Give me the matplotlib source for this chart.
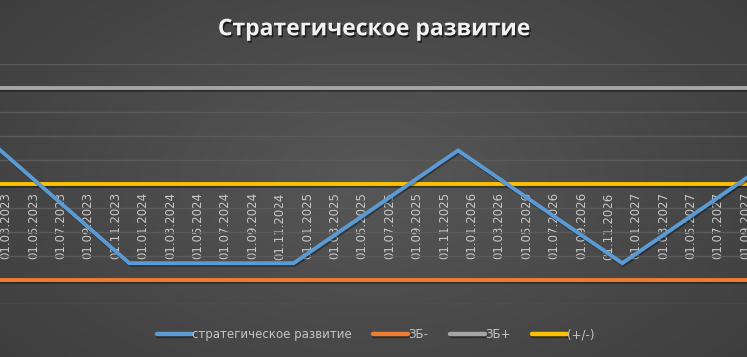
import numpy as np
import matplotlib
matplotlib.use("Agg")
import matplotlib.pyplot as plt
import matplotlib.patheffects as pe

# tick labels on the date axis (every second month)
tick_labels = [
    "01.03.2023", "01.05.2023", "01.07.2023", "01.09.2023", "01.11.2023",
    "01.01.2024", "01.03.2024", "01.05.2024", "01.07.2024", "01.09.2024", "01.11.2024",
    "01.01.2025", "01.03.2025", "01.05.2025", "01.07.2025", "01.09.2025", "01.11.2025",
    "01.01.2026", "01.03.2026", "01.05.2026", "01.07.2026", "01.09.2026", "01.11.2026",
    "01.01.2027", "01.03.2027", "01.05.2027", "01.07.2027", "01.09.2027",
]

# strategic development series
dev_dates = ["01.12.2022", "01.12.2023", "01.12.2024", "01.12.2025", "01.12.2026", "01.12.2027"]
dev_values = [2.7, -3.3, -3.3, 1.4, -3.3, 1.4]

# constant levels
zb_minus = -4
zb_plus = 4
plus_minus = 0


def month_index(s):
    d, m, y = (int(p) for p in s.split("."))
    return (y - 2023) * 12 + (m - 3)


tick_x = [month_index(s) for s in tick_labels]
dev_x = [month_index(s) for s in dev_dates]

fig = plt.figure(figsize=(7.47, 3.57), dpi=100)
fig.patch.set_facecolor("#484848")

# soft radial background like the Excel style
bg = fig.add_axes([0, 0, 1, 1], zorder=0)
yy, xx = np.mgrid[-1:1:200j, -1:1:400j]
r = np.sqrt(xx ** 2 + (yy * 0.8) ** 2)
bg.imshow(r, cmap=matplotlib.colors.LinearSegmentedColormap.from_list("bg", ["#575757", "#3e3e3e"]),
          aspect="auto", extent=[0, 1, 0, 1], vmin=0, vmax=1.3)
bg.axis("off")

ax = fig.add_axes([0, 0.1485, 1, 0.672], zorder=1)
ax.set_facecolor("none")

ax.set_ylim(-5, 5)
ax.set_xlim(-0.44, 54.1)
ax.set_yticks(range(-5, 6))
ax.yaxis.grid(True, color="#5b5b5b", lw=1.0)
ax.tick_params(axis="y", left=False, labelleft=False)

for s in ax.spines.values():
    s.set_visible(False)
ax.spines["bottom"].set_position(("data", 0))
ax.set_xticks(tick_x)
ax.set_xticklabels(tick_labels, rotation=90, color="#c9c9c9", fontsize=8.5)
ax.tick_params(axis="x", length=0, pad=6)
ax.set_axisbelow(True)

shadow = [pe.SimpleLineShadow(offset=(0.8, -1.2), shadow_color="black", alpha=0.35), pe.Normal()]
xmin, xmax = -5, 60
ax.plot(dev_x, dev_values, color="#5b9bd5", lw=2.8, solid_joinstyle="miter",
        label="стратегическое развитие", path_effects=shadow, zorder=4)
ax.plot([xmin, xmax], [zb_minus, zb_minus], color="#ed7d31", lw=2.8, label="ЗБ-",
        path_effects=shadow, zorder=3)
ax.plot([xmin, xmax], [zb_plus, zb_plus], color="#a5a5a5", lw=2.8, label="ЗБ+",
        path_effects=shadow, zorder=3)
ax.plot([xmin, xmax], [plus_minus, plus_minus], color="#ffc000", lw=2.8, label="(+/-)",
        path_effects=shadow, zorder=3)

leg = fig.legend(loc="center", bbox_to_anchor=(0.503, 0.062), ncol=4, frameon=False,
                 fontsize=8.5, labelcolor="#c4c4c4", handlelength=3.0, handletextpad=0.0,
                 columnspacing=1.8)
for line in leg.get_lines():
    line.set_linewidth(3.2)
    line.set_solid_capstyle("round")

fig.text(0.5, 0.918, "Стратегическое развитие", ha="center", va="center",
         fontsize=16.5, fontweight="bold", color="#f2f2f2", family="Open Sans",
         path_effects=[pe.SimplePatchShadow(offset=(1, -1.5), shadow_rgbFace="black", alpha=0.6),
                       pe.Normal()])

fig.savefig("out.png", dpi=100, facecolor=fig.get_facecolor())
